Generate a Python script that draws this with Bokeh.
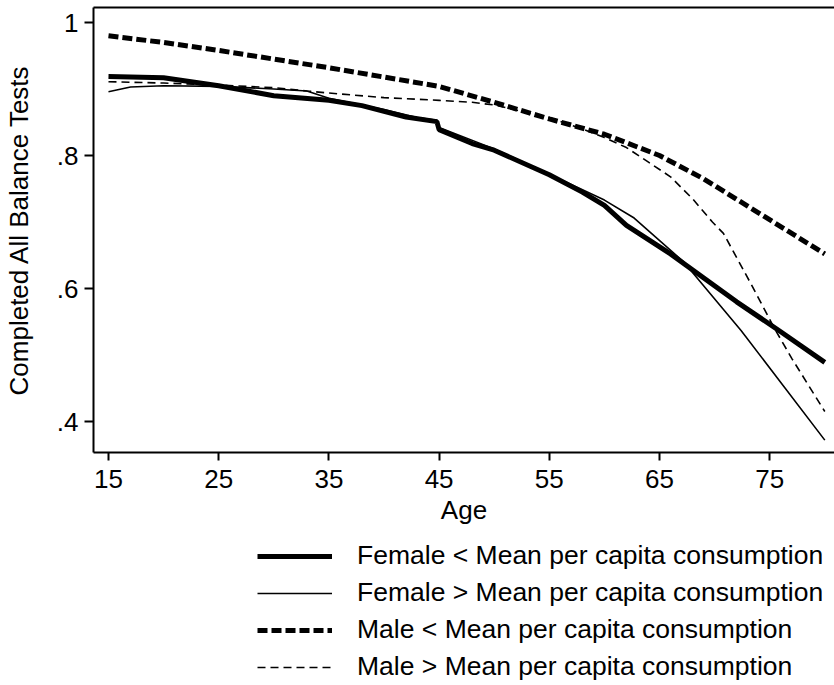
from bokeh.plotting import figure
from bokeh.layouts import column
from bokeh.models import Range1d, FixedTicker, LinearAxis, Legend, LegendItem
from bokeh.embed import file_html
from bokeh.resources import INLINE

# ---- data ----
age_f_low = [15, 20, 25, 30, 35, 38, 42, 44.8, 45, 48, 50, 55, 58, 60, 62, 66, 72, 76, 80]
val_f_low = [0.919, 0.917, 0.905, 0.890, 0.883, 0.875, 0.858, 0.851, 0.839, 0.818, 0.808,
             0.771, 0.745, 0.725, 0.695, 0.652, 0.580, 0.535, 0.489]

age_f_high = [15, 17, 20, 25, 30, 33, 35, 40, 43, 44.8, 45, 50, 55, 60, 62.7, 67.2, 72.4, 80]
val_f_high = [0.896, 0.903, 0.905, 0.904, 0.900, 0.897, 0.886, 0.869, 0.857, 0.853, 0.842,
              0.810, 0.772, 0.733, 0.706, 0.640, 0.537, 0.372]

age_m_low = [15, 20, 25, 30, 35, 40, 45, 50, 55, 60, 65, 69, 73, 80]
val_m_low = [0.980, 0.970, 0.958, 0.945, 0.932, 0.918, 0.904, 0.880, 0.855, 0.832, 0.800,
             0.765, 0.724, 0.652]

age_m_high = [15, 20, 25, 30, 33, 35, 40, 45, 48, 50, 55, 58, 60, 62, 64, 66, 68, 69.8,
              70.8, 73.3, 75.4, 77, 80]
val_m_high = [0.911, 0.909, 0.906, 0.902, 0.897, 0.894, 0.887, 0.883, 0.880, 0.876, 0.857,
              0.840, 0.827, 0.812, 0.790, 0.768, 0.735, 0.700, 0.683, 0.607, 0.541, 0.495,
              0.415]

series_labels = ["Female < Mean per capita consumption",
                 "Female > Mean per capita consumption",
                 "Male < Mean per capita consumption",
                 "Male > Mean per capita consumption"]

x_ticks = [15, 25, 35, 45, 55, 65, 75]
y_ticks = [0.4, 0.6, 0.8, 1.0]
y_tick_labels = [".4", ".6", ".8", "1"]

x_title = "Age"
y_title = "Completed All Balance Tests"

FONT = "Liberation Sans"
FS = "26px"

series = [(age_f_low, val_f_low), (age_f_high, val_f_high),
          (age_m_low, val_m_low), (age_m_high, val_m_high)]
styles = [dict(line_color="black", line_width=5),
          dict(line_color="black", line_width=1.6),
          dict(line_color="black", line_width=5, line_dash="10 4"),
          dict(line_color="black", line_width=1.6, line_dash="8 5")]

p = figure(width=834, height=537, output_backend="svg", toolbar_location=None,
           x_range=Range1d(13.64, 80.88), y_range=Range1d(0.3534, 1.0226),
           min_border_left=91, min_border_right=0, min_border_top=7,
           min_border_bottom=85)
p.outline_line_color = None
p.xgrid.visible = False
p.ygrid.visible = False
p.background_fill_color = "white"
p.border_fill_color = "white"

for ax in (p.xaxis[0], p.yaxis[0]):
    ax.axis_line_width = 2
    ax.axis_line_color = "black"
    ax.major_tick_line_width = 2
    ax.major_tick_in = 0
    ax.minor_tick_line_color = None
    ax.major_label_text_font = FONT
    ax.major_label_text_font_size = FS
    ax.major_label_text_color = "black"
    ax.axis_label_text_font = FONT
    ax.axis_label_text_font_size = FS
    ax.axis_label_text_font_style = "normal"
    ax.axis_label_text_color = "black"

p.xaxis[0].ticker = FixedTicker(ticks=x_ticks)
p.xaxis[0].major_tick_out = 8
p.xaxis[0].major_label_standoff = 9
p.xaxis[0].axis_label = x_title
p.xaxis[0].axis_label_standoff = 4

p.yaxis[0].ticker = FixedTicker(ticks=y_ticks)
p.yaxis[0].major_tick_out = 9
p.yaxis[0].major_label_standoff = 6
p.yaxis[0].major_label_overrides = {t: l for t, l in zip(y_ticks, y_tick_labels)}
p.yaxis[0].axis_label = y_title
p.yaxis[0].axis_label_standoff = 20

top = LinearAxis(ticker=FixedTicker(ticks=[]), axis_line_width=2, axis_line_color="black",
                 major_tick_out=0, major_tick_in=0, major_label_standoff=0,
                 minor_tick_line_color=None)
p.add_layout(top, "above")

for (xs, ys), st in zip(series, styles):
    p.line(xs, ys, **st)

# ---- legend strip below the chart (same series, drawn outside its view range) ----
lg = figure(width=834, height=148, output_backend="svg", toolbar_location=None,
            x_axis_location=None, y_axis_location=None,
            x_range=Range1d(200, 201), y_range=Range1d(200, 201),
            min_border=0)
lg.outline_line_color = None
lg.xgrid.visible = False
lg.ygrid.visible = False
lg.border_fill_color = "white"
lg.background_fill_color = "white"

rs = [lg.line(xs, ys, **st) for (xs, ys), st in zip(series, styles)]
legend = Legend(items=[LegendItem(label=lab, renderers=[r]) for lab, r in zip(series_labels, rs)],
                location=(164, 3), orientation="vertical",
                glyph_width=75, glyph_height=30, label_height=30,
                spacing=6, padding=0, margin=0, label_standoff=25,
                label_text_font=FONT, label_text_font_size="26.5px", label_text_color="black",
                border_line_color=None, background_fill_alpha=0)
lg.add_layout(legend, "center")

layout = column(p, lg, spacing=0)
open("out.html", "w").write(file_html(layout, INLINE))
